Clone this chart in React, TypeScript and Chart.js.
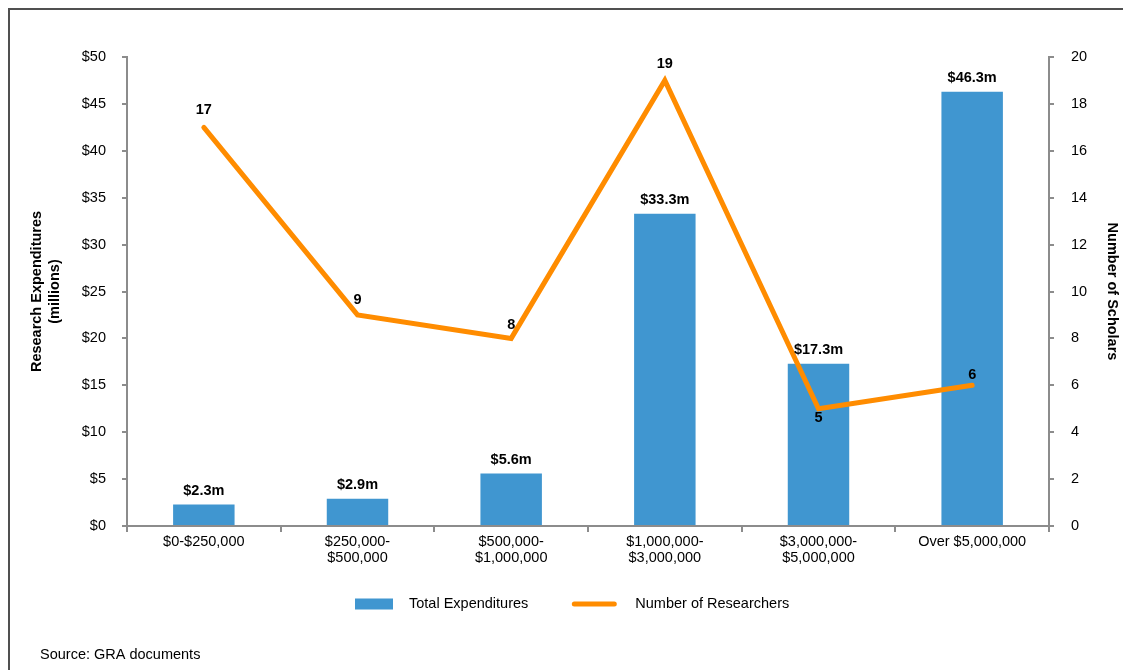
import React, { useEffect, useRef } from 'react';
import { Chart, registerables } from 'chart.js';

Chart.register(...registerables);

// ---- Data ----
const categories: string[][] = [
  ['$0-$250,000'],
  ['$250,000-', '$500,000'],
  ['$500,000-', '$1,000,000'],
  ['$1,000,000-', '$3,000,000'],
  ['$3,000,000-', '$5,000,000'],
  ['Over $5,000,000'],
];
const expenditures = [2.3, 2.9, 5.6, 33.3, 17.3, 46.3];
const researchers = [17, 9, 8, 19, 5, 6];
const leftTickLabels = ['$0', '$5', '$10', '$15', '$20', '$25', '$30', '$35', '$40', '$45', '$50'];
const rightTickLabels = ['0', '2', '4', '6', '8', '10', '12', '14', '16', '18', '20'];
const seriesNames = ['Total Expenditures', 'Number of Researchers'];
const sourceNote = 'Source: GRA documents';

// ---- Style ----
const FONT = "'Liberation Sans', Arial, Helvetica, sans-serif";
const BAR_COLOR = '#4096D0';
const LINE_COLOR = '#FF8C00';
const AXIS_COLOR = '#8C8C8C';
const researcherLabelOffsets = [-17, -15, -13, -16, 9, -10];

const annotatePlugin = {
  id: 'annotate',
  afterDatasetsDraw(chart: any) {
    const ctx = chart.ctx;
    ctx.save();
    ctx.fillStyle = '#000';
    ctx.font = `bold 14.5px ${FONT}`;
    ctx.textAlign = 'center';
    ctx.textBaseline = 'middle';
    const barMeta = chart.getDatasetMeta(1);
    barMeta.data.forEach((el: any, i: number) => {
      ctx.fillText(`$${expenditures[i]}m`, el.x, el.y - 13.5);
    });
    const lineMeta = chart.getDatasetMeta(0);
    lineMeta.data.forEach((el: any, i: number) => {
      ctx.fillText(String(researchers[i]), el.x, el.y + researcherLabelOffsets[i]);
    });
    ctx.restore();
  },
  afterDraw(chart: any) {
    const ctx = chart.ctx;
    const area = chart.chartArea;
    ctx.save();
    const ly = area.bottom + 78;
    const lx = area.left + 228;
    // bar legend swatch
    ctx.fillStyle = BAR_COLOR;
    ctx.fillRect(lx, ly - 5.5, 38, 11);
    ctx.fillStyle = '#000';
    ctx.font = `14.5px ${FONT}`;
    ctx.textAlign = 'left';
    ctx.textBaseline = 'middle';
    ctx.fillText(seriesNames[0], lx + 54, ly);
    const t1 = ctx.measureText(seriesNames[0]).width;
    const l2 = lx + 54 + t1 + 46;
    ctx.strokeStyle = LINE_COLOR;
    ctx.lineWidth = 5;
    ctx.lineCap = 'round';
    ctx.beginPath();
    ctx.moveTo(l2, ly);
    ctx.lineTo(l2 + 40, ly);
    ctx.stroke();
    ctx.fillText(seriesNames[1], l2 + 61, ly);
    // source
    ctx.fillText(sourceNote, 40, 655);
    ctx.restore();
  },
};

export default function App() {
  const canvasRef = useRef<HTMLCanvasElement | null>(null);

  useEffect(() => {
    if (!canvasRef.current) return;
    Chart.defaults.font.family = FONT;
    Chart.defaults.color = '#000';
    const chart = new Chart(canvasRef.current, {
      data: {
        labels: categories,
        datasets: [
          {
            type: 'line',
            label: seriesNames[1],
            data: researchers,
            yAxisID: 'y1',
            borderColor: LINE_COLOR,
            backgroundColor: LINE_COLOR,
            borderWidth: 5,
            pointRadius: 0,
            tension: 0,
            fill: false,
            borderCapStyle: 'round',
            borderJoinStyle: 'miter',
            order: 0,
          },
          {
            type: 'bar',
            label: seriesNames[0],
            data: expenditures,
            yAxisID: 'y',
            backgroundColor: BAR_COLOR,
            borderWidth: 0,
            barPercentage: 0.4,
            categoryPercentage: 1.0,
            order: 1,
          },
        ],
      } as any,
      options: {
        responsive: false,
        animation: false,
        devicePixelRatio: 1,
        layout: { padding: { top: 57, left: 0, right: 0, bottom: 0 } },
        plugins: {
          legend: { display: false },
          tooltip: { enabled: false },
        },
        scales: {
          x: {
            type: 'category',
            offset: true,
            grid: {
              offset: true,
              drawOnChartArea: false,
              color: AXIS_COLOR,
              lineWidth: 2,
              tickLength: 6,
            },
            border: { color: AXIS_COLOR, width: 2 },
            ticks: {
              color: '#000',
              font: { size: 14.5, lineHeight: 1.1 },
              padding: 2,
              maxRotation: 0,
              autoSkip: false,
            },
            afterFit(s: any) {
              s.height = 144;
            },
          },
          y: {
            position: 'left',
            min: 0,
            max: 50,
            ticks: {
              stepSize: 5,
              padding: 16,
              color: '#000',
              font: { size: 14.5 },
              callback: (_v: any, i: number) => leftTickLabels[i],
            },
            grid: {
              drawOnChartArea: false,
              color: AXIS_COLOR,
              lineWidth: 2,
              tickLength: 5,
            },
            border: { color: AXIS_COLOR, width: 2 },
            title: {
              display: true,
              text: ['Research Expenditures', '(millions)'],
              color: '#000',
              font: { size: 14.5, weight: 'bold', lineHeight: 1.24 },
              padding: { top: 28, bottom: 0 },
            },
            afterFit(s: any) {
              s.width = 127;
            },
          },
          y1: {
            position: 'right',
            min: 0,
            max: 20,
            ticks: {
              stepSize: 2,
              padding: 17,
              color: '#000',
              font: { size: 14.5 },
              callback: (_v: any, i: number) => rightTickLabels[i],
            },
            grid: {
              drawOnChartArea: false,
              color: AXIS_COLOR,
              lineWidth: 2,
              tickLength: 5,
            },
            border: { color: AXIS_COLOR, width: 2 },
            title: {
              display: true,
              text: 'Number of Scholars',
              color: '#000',
              font: { size: 14.5, weight: 'bold', lineHeight: 1.24 },
              padding: { top: 2, bottom: 0 },
            },
            afterFit(s: any) {
              s.width = 74;
            },
          },
        },
      } as any,
      plugins: [annotatePlugin],
    });
    return () => chart.destroy();
  }, []);

  return (
    <div
      style={{
        position: 'fixed',
        left: 0,
        top: 0,
        width: 1123,
        height: 670,
        overflow: 'hidden',
        background: '#fff',
      }}
    >
      <div
        style={{
          position: 'absolute',
          left: 8,
          top: 8,
          width: 1200,
          height: 800,
          borderLeft: '2px solid #505050',
          borderTop: '2px solid #505050',
        }}
      />
      <canvas
        ref={canvasRef}
        width={1123}
        height={670}
        style={{ position: 'absolute', left: 0, top: 0, width: 1123, height: 670 }}
      />
    </div>
  );
}
